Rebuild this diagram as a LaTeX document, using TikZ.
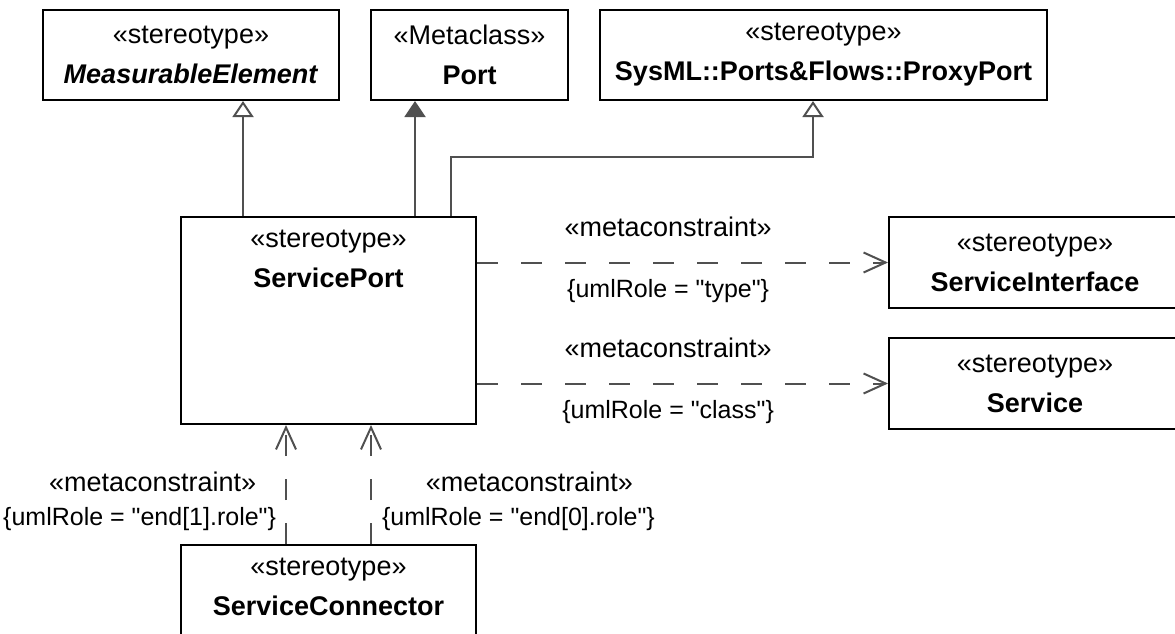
\documentclass[tikz,border=0pt]{standalone}
\usepackage{fontspec}
\setmainfont{Liberation Sans}
\usepackage{xcolor}
\usetikzlibrary{
    arrows.meta,
    positioning,
    calc,
}
\definecolor{linegray}{HTML}{505050}

\begin{document}
\begin{tikzpicture}[
    x=1pt, y=-1pt,
    font=\fontsize{27}{40}\selectfont,
    cls/.style  = {rectangle, draw=black, line width=2pt, fill=white,
                   align=center, inner sep=0pt},
    ctext/.style = {inner sep=0pt, align=center},
    lbl/.style  = {inner sep=0pt, align=center},
    role/.style = {lbl, font=\fontsize{25}{30}\selectfont},
    gen/.style  = {-{Triangle[open, length=16pt, width=21pt]},
                   draw=linegray, line width=2pt},
    ext/.style  = {-{Triangle[length=16pt, width=21pt]},
                   draw=linegray, line width=2pt},
    dep/.style  = {-{Straight Barb[length=22pt, width=20pt]},
                   draw=linegray, line width=2pt,
                   dash pattern=on 21pt off 23pt},
]
\useasboundingbox (0,0) rectangle (1175,634);
\clip (0,0) rectangle (1175,634);

%% ── Top row: parents ────────────────────────────────────────────────────────
\node[cls, minimum width=296pt, minimum height=90pt] (meas)  at (191,55)
    {«stereotype»\\\textbf{\textit{MeasurableElement}}};
\node[cls, minimum width=197pt, minimum height=90pt] (port)  at (469.5,55)
    {«Metaclass»\\\textbf{Port}};
\node[cls, minimum width=447pt, minimum height=90pt] (proxy) at (823.5,55)
    {«stereotype»\\\textbf{SysML::Ports\&Flows::ProxyPort}};

%% ── Centre: ServicePort ─────────────────────────────────────────────────────
\node[cls, minimum width=295pt, minimum height=207pt] (sport) at (328.5,320.5) {};
\node[ctext, below=14pt of sport.north] (sporttxt)
    {«stereotype»\\\textbf{ServicePort}};

%% ── Right column ────────────────────────────────────────────────────────────
\node[cls, minimum width=292pt, minimum height=91pt] (siface) at (1035,262.5)
    {«stereotype»\\\textbf{ServiceInterface}};
\node[cls, minimum width=292pt, minimum height=91pt] (svc)    at (1035,383.5)
    {«stereotype»\\\textbf{Service}};

%% ── Bottom: ServiceConnector ────────────────────────────────────────────────
\node[cls, minimum width=295pt, minimum height=155pt] (sconn) at (328.5,622.5) {};
\node[ctext, below=14pt of sconn.north] (sconntxt)
    {«stereotype»\\\textbf{ServiceConnector}};

%% ── Generalisations and extension ───────────────────────────────────────────
\draw[gen] ([xshift=-85.5pt]sport.north) -- ([xshift=-85.5pt]sport.north |- meas.south);
\draw[ext] ([xshift=86.5pt]sport.north)  -- ([xshift=86.5pt]sport.north |- port.south);
\coordinate (elbow) at ($(sport.north) + (122.5,-59)$);
\draw[gen] ([xshift=122.5pt]sport.north) -- (elbow)
    -| ([xshift=-10.5pt]proxy.south);

%% ── Metaconstraints to the right ────────────────────────────────────────────
\draw[dep] (sport.east |- siface.west) -- (siface.west)
    node[lbl,  pos=0.465, above=25pt] (mc1) {«metaconstraint»}
    node[role, pos=0.465, below=16pt] (ur1) {\{umlRole = \textquotedbl type\textquotedbl\}};
\draw[dep] (sport.east |- svc.west) -- (svc.west)
    node[lbl,  pos=0.465, above=25pt] (mc2) {«metaconstraint»}
    node[role, pos=0.465, below=16pt] (ur2) {\{umlRole = \textquotedbl class\textquotedbl\}};

%% ── Metaconstraints from the connector ──────────────────────────────────────
\draw[dep] ([xshift=-42.5pt]sconn.north) -- ([xshift=-42.5pt]sport.south)
    node[role, pos=0.314, anchor=north east, xshift=-9pt] (ur3)
    {\{umlRole = \textquotedbl end[1].role\textquotedbl\}};
\node[lbl, above=15pt of ur3, xshift=13pt] (mc3) {«metaconstraint»};
\draw[dep] ([xshift=42.5pt]sconn.north) -- ([xshift=42.5pt]sport.south)
    node[role, pos=0.314, anchor=north west, xshift=10pt] (ur4)
    {\{umlRole = \textquotedbl end[0].role\textquotedbl\}};
\node[lbl, above=15pt of ur4, xshift=11pt] (mc4) {«metaconstraint»};

\end{tikzpicture}
\end{document}
